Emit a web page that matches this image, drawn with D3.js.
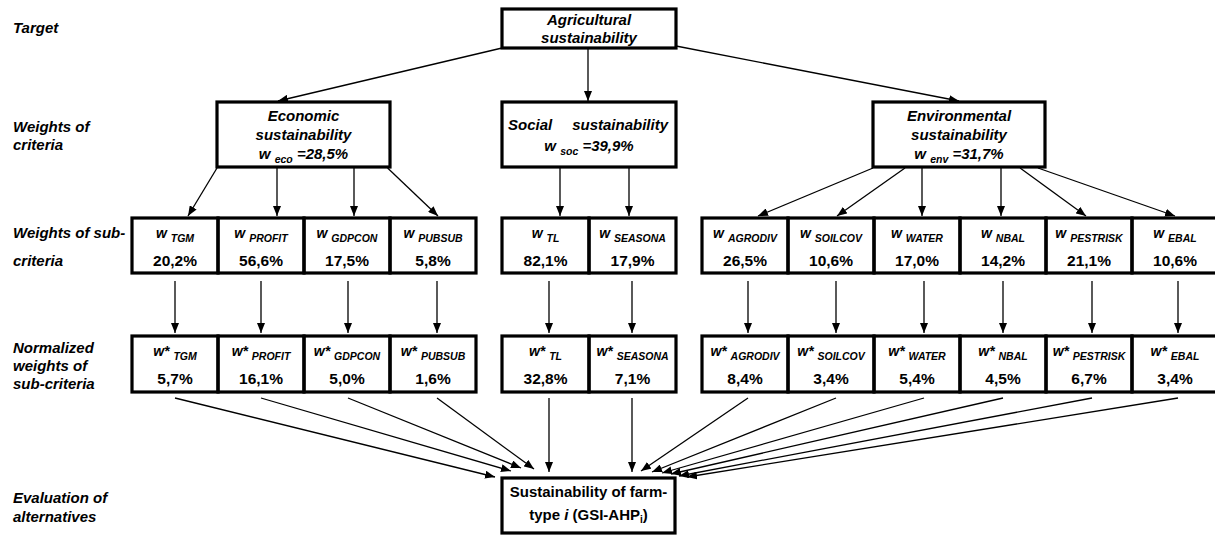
<!DOCTYPE html>
<html><head><meta charset="utf-8">
<script src="https://cdn.jsdelivr.net/npm/d3@7"></script>
<style>
body{margin:0;background:#fff}
svg{display:block;font-family:"Liberation Sans",Arial,Helvetica,sans-serif}
</style>
</head><body>
<svg id="chart" width="1215" height="536"></svg>
<script>
// ---------------- DATA ----------------
const levelLabels = [["Target"], ["Weights of", "criteria"], ["Weights of sub-", "criteria"], ["Normalized", "weights of", "sub-criteria"], ["Evaluation of", "alternatives"]];
const targetLines = ["Agricultural", "sustainability"];
const criteriaLines = [["Economic", "sustainability"], ["Social sustainability"], ["Environmental", "sustainability"]];
const criteriaKeys = ["eco", "soc", "env"];
const criteriaWeights = [28.5, 39.9, 31.7];
const subGroup = [0, 0, 0, 0, 1, 1, 2, 2, 2, 2, 2, 2];
const subCodes = ["TGM", "PROFIT", "GDPCON", "PUBSUB", "TL", "SEASONA", "AGRODIV", "SOILCOV", "WATER", "NBAL", "PESTRISK", "EBAL"];
const subWeights = [20.2, 56.6, 17.5, 5.8, 82.1, 17.9, 26.5, 10.6, 17.0, 14.2, 21.1, 10.6];
const normWeights = [5.7, 16.1, 5.0, 1.6, 32.8, 7.1, 8.4, 3.4, 5.4, 4.5, 6.7, 3.4];
const resultLine1 = "Sustainability of farm-";

// ---------------- LAYOUT ----------------
const levelLabelY = [[33], [132, 150], [238, 266], [353, 371, 389], [503, 522]];
const topBox = {x0: 502, x1: 676, y0: 9, y1: 48};
const critBoxes = [{x0: 217, x1: 390}, {x0: 502, x1: 676}, {x0: 873, x1: 1045}];
const critY = [102, 167];
const groupRanges = [[132, 476], [502, 676], [702, 1218]];
const subY = [218, 273];
const normY = [336, 392];
const resBox = {x0: 502, x1: 675, y0: 478, y1: 533};
// connector fine-tuning (hand-drawn diagram offsets)
const critStartFrac = [0, null, null, 0.986, null, null, 0, 0.186, null, null, 0.855, 0.959];
const critEndDx = [13, 16, 7, 5, 14.5, -3.5, 13, 6, 5, -2, -3, 0];
const colDx = [0, 0, 1, 4, 3.5, -0.5, 3, 5, 7, 0, 3, 3];
const convDx = [-7, 9, 19, 32, 47, 130, 139, 150, 160, 169, 177, 185];
const convDy = [-1, -7, -10, -9, -6, -6, -7, -6, -5, -4, -2, -1];

const fmt = v => d3.format(".1f")(v).replace(".", ",") + "%";
const svg = d3.select("#chart");

svg.append("defs").append("marker")
  .attr("id", "ah").attr("markerUnits", "userSpaceOnUse")
  .attr("markerWidth", 10).attr("markerHeight", 8)
  .attr("refX", 10).attr("refY", 4).attr("orient", "auto")
  .append("path").attr("d", "M0,0 L10,4 L0,8 Z").attr("fill", "#000");

// scales: one band scale per criteria group
const groupScales = groupRanges.map((r, g) =>
  d3.scaleBand().domain(subCodes.filter((c, i) => subGroup[i] === g)).range(r).paddingInner(0).paddingOuter(0));
const cx = i => { const s = groupScales[subGroup[i]]; return s(subCodes[i]) + s.bandwidth() / 2; };

// left level labels
levelLabels.forEach((lines, k) => {
  const t = svg.append("text").attr("font-size", 15).attr("font-weight", "bold").attr("font-style", "italic");
  lines.forEach((l, j) => t.append("tspan").attr("x", 13).attr("y", levelLabelY[k][j]).text(l));
});

const boxStroke = 3.2;
function rect(x0, y0, x1, y1) {
  svg.append("rect").attr("x", x0).attr("y", y0).attr("width", x1 - x0).attr("height", y1 - y0)
    .attr("fill", "none").attr("stroke", "#000").attr("stroke-width", boxStroke);
}
function arrow(x1, y1, x2, y2) {
  svg.append("line").attr("x1", x1).attr("y1", y1).attr("x2", x2).attr("y2", y2)
    .attr("stroke", "#000").attr("stroke-width", 1.3).attr("marker-end", "url(#ah)");
}

// target box
rect(topBox.x0, topBox.y0, topBox.x1, topBox.y1);
const tcx = (topBox.x0 + topBox.x1) / 2;
targetLines.forEach((l, j) => svg.append("text").attr("x", tcx).attr("y", topBox.y0 + 16 + j * 18)
  .attr("text-anchor", "middle").attr("font-size", 15).attr("font-weight", "bold").attr("font-style", "italic").text(l));

// criteria boxes
critBoxes.forEach((b, g) => {
  rect(b.x0, critY[0], b.x1, critY[1]);
  const mx = (b.x0 + b.x1) / 2;
  const lines = criteriaLines[g];
  const base = lines.length === 1 ? critY[0] + 28 : critY[0] + 19;
  const step = lines.length === 1 ? 21 : 19;
  lines.forEach((l, j) => {
    const words = l.split(" ");
    if (lines.length === 1 && words.length > 1) {
      svg.append("text").attr("x", b.x0 + 6).attr("y", base).attr("font-size", 15).attr("font-weight", "bold").attr("font-style", "italic").text(words[0]);
      svg.append("text").attr("x", b.x1 - 8).attr("y", base).attr("text-anchor", "end").attr("font-size", 15).attr("font-weight", "bold").attr("font-style", "italic").text(words.slice(1).join(" "));
    } else {
      svg.append("text").attr("x", mx).attr("y", base + j * step).attr("text-anchor", "middle")
        .attr("font-size", 15).attr("font-weight", "bold").attr("font-style", "italic").text(l);
    }
  });
  const t = svg.append("text").attr("x", mx).attr("y", base + lines.length * step).attr("text-anchor", "middle")
    .attr("font-weight", "bold").attr("font-style", "italic");
  t.append("tspan").attr("font-size", 15).text("w ");
  t.append("tspan").attr("font-size", 10.5).attr("dy", 4).text(criteriaKeys[g]);
  t.append("tspan").attr("font-size", 15).attr("dy", -4).text(" =" + fmt(criteriaWeights[g]));
});

// top -> criteria arrows
arrow(topBox.x0, topBox.y1, 278, critY[0] - 1);
arrow(tcx - 1, topBox.y1, tcx - 1, critY[0] - 1);
arrow(topBox.x1, topBox.y1 - 2, (critBoxes[2].x0 + critBoxes[2].x1) / 2, critY[0] - 1);

// sub-criteria and normalized rows
subCodes.forEach((code, i) => {
  const s = groupScales[subGroup[i]];
  const x0 = s(code), x1 = x0 + s.bandwidth(), mx = (x0 + x1) / 2;
  [[subY, "w", subWeights[i]], [normY, "w*", normWeights[i]]].forEach(([ys, sym, val]) => {
    rect(x0, ys[0], x1, ys[1]);
    const t = svg.append("text").attr("x", mx).attr("y", ys[0] + 20).attr("text-anchor", "middle")
      .attr("font-weight", "bold").attr("font-style", "italic");
    t.append("tspan").attr("font-size", 14).text(sym + " ");
    t.append("tspan").attr("font-size", 10.5).attr("dy", 4).text(code);
    svg.append("text").attr("x", mx).attr("y", ys[0] + 48).attr("text-anchor", "middle")
      .attr("font-size", 15.5).attr("font-weight", "bold").text(fmt(val));
  });
  // criteria -> sub arrows
  const b = critBoxes[subGroup[i]];
  const ex = cx(i) + critEndDx[i];
  const sx = critStartFrac[i] === null ? ex : b.x0 + critStartFrac[i] * (b.x1 - b.x0);
  arrow(sx, critY[1] + 1, ex, subY[0] - 2);
  // sub -> normalized arrows
  const vx = cx(i) + colDx[i];
  arrow(vx, subY[1] + 8, vx, normY[0] - 3);
  // normalized -> result arrows
  arrow(vx, normY[1] + 6, resBox.x0 + convDx[i], resBox.y0 + convDy[i]);
});

// result box
rect(resBox.x0, resBox.y0, resBox.x1, resBox.y1);
const rcx = (resBox.x0 + resBox.x1) / 2;
svg.append("text").attr("x", rcx).attr("y", resBox.y0 + 19).attr("text-anchor", "middle")
  .attr("font-size", 15).attr("font-weight", "bold").text(resultLine1);
const r2 = svg.append("text").attr("x", rcx).attr("y", resBox.y0 + 42).attr("text-anchor", "middle")
  .attr("font-size", 15).attr("font-weight", "bold");
r2.append("tspan").text("type ");
r2.append("tspan").attr("font-style", "italic").text("i");
r2.append("tspan").text(" (GSI-AHP");
r2.append("tspan").attr("font-size", 10).attr("dy", 3).text("i");
r2.append("tspan").attr("dy", -3).text(")");
</script>
</body></html>
